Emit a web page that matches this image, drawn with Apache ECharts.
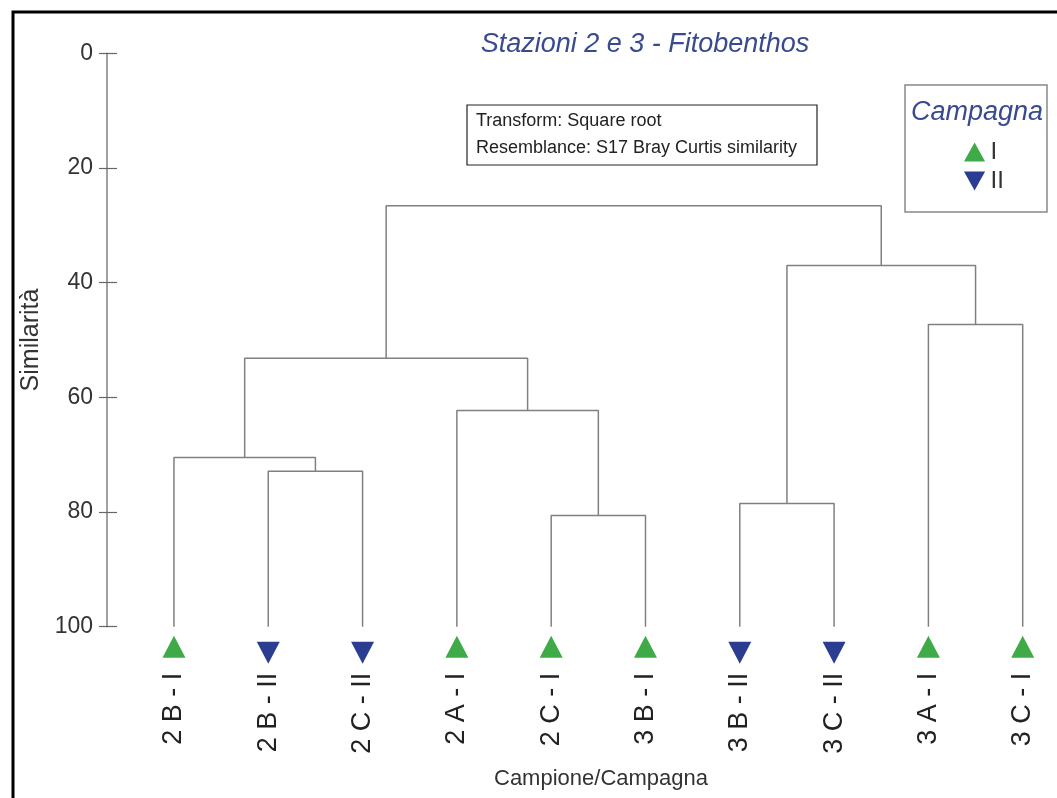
<!DOCTYPE html>
<html>
<head>
<meta charset="utf-8">
<script src="https://cdn.jsdelivr.net/npm/echarts@6/dist/echarts.min.js"></script>
<style>
  html, body { margin: 0; padding: 0; background: #fff; }
  #chart { width: 1057px; height: 798px; }
</style>
</head>
<body>
<div id="chart"></div>
<script>
// leaves (left to right), and their campaign
const leafNames = ['2 B - I', '2 B - II', '2 C - II', '2 A - I', '2 C - I', '3 B - I', '3 B - II', '3 C - II', '3 A - I', '3 C - I'];
const leafCampagna = ['I', 'II', 'II', 'I', 'I', 'I', 'II', 'II', 'I', 'I'];
// merges: node ids (0-9 leaves, 10+ merges in order) and similarity level
const mergeA = [1, 0, 4, 3, 11, 6, 8, 15, 14];
const mergeB = [2, 10, 5, 12, 13, 7, 9, 16, 17];
const mergeSim = [72.9, 70.5, 80.6, 62.3, 53.2, 78.5, 47.3, 37.0, 26.6];
const yTicks = [0, 20, 40, 60, 80, 100];

const FONT = '"Liberation Sans", Arial, sans-serif';
const GREEN = '#3fab48';
const BLUE = '#2b3d90';
const LINE = '#808080';

const nodeX = leafNames.map((_, i) => i);
const nodeY = leafNames.map(() => 100);
mergeA.forEach((a, k) => {
  const b = mergeB[k];
  nodeX.push((nodeX[a] + nodeX[b]) / 2);
  nodeY.push(mergeSim[k]);
});

const linkSeries = mergeA.map((a, k) => {
  const b = mergeB[k];
  return {
    type: 'line',
    symbol: 'none',
    silent: true,
    lineStyle: { color: LINE, width: 1.5 },
    data: [[nodeX[a], nodeY[a]], [nodeX[a], mergeSim[k]], [nodeX[b], mergeSim[k]], [nodeX[b], nodeY[b]]]
  };
});

const UP = 'path://M5,0 L10,9 L0,9 Z';
const DOWN = 'path://M0,0 L10,0 L5,9 Z';

function markerSeries(name, symbol, color, offset) {
  return {
    type: 'scatter',
    name: name,
    clip: false,
    symbol: symbol,
    symbolSize: [23, 22],
    symbolOffset: [0, offset],
    itemStyle: { color: color, opacity: 1 },
    data: leafNames.map((_, i) => i).filter(i => leafCampagna[i] === name).map(i => [i, 100])
  };
}

const chart = echarts.init(document.getElementById('chart'));
chart.setOption({
  animation: false,
  textStyle: { fontFamily: FONT },
  grid: { left: 107, right: 6, top: 53.3, bottom: 171.3, containLabel: false },
  xAxis: {
    type: 'value',
    min: -0.71,
    max: 9.3,
    axisLine: { show: false },
    axisTick: { show: false },
    splitLine: { show: false },
    axisLabel: {
      customValues: leafNames.map((_, i) => i),
      formatter: v => leafNames[Math.round(v)],
      rotate: 90,
      margin: 46,
      fontSize: 27,
      color: '#222',
      fontFamily: FONT
    }
  },
  yAxis: [{
    type: 'value',
    inverse: true,
    min: 0,
    max: 100,
    interval: 20,
    name: 'Similarità',
    nameLocation: 'middle',
    nameGap: 58,
    nameTextStyle: { fontSize: 25, color: '#333', fontFamily: FONT },
    axisLine: { show: true, onZero: false, lineStyle: { color: LINE, width: 1.5 } },
    axisTick: { show: true, length: 8, lineStyle: { color: '#666', width: 1.2 } },
    splitLine: { show: false },
    axisLabel: {
      margin: 14,
      fontSize: 23,
      color: '#333',
      fontFamily: FONT,
      customValues: yTicks
    }
  }, {
    type: 'value',
    inverse: true,
    min: 0,
    max: 100,
    interval: 20,
    position: 'left',
    axisLine: { show: false, onZero: false },
    axisTick: { show: true, inside: true, length: 10, lineStyle: { color: '#666', width: 1.2 } },
    axisLabel: { show: false },
    splitLine: { show: false }
  }],
  legend: {
    orient: 'vertical',
    left: 959,
    top: 135,
    itemWidth: 22,
    itemHeight: 19,
    itemGap: 5,
    textStyle: { fontSize: 24, color: '#333', fontFamily: FONT },
    data: [{ name: 'I', icon: UP }, { name: 'II', icon: DOWN }]
  },
  graphic: [
    {
      type: 'rect',
      shape: { x: 13, y: 12, width: 1100, height: 850 },
      style: { fill: null, stroke: '#000', lineWidth: 3 },
      silent: true
    },
    {
      type: 'text',
      x: 645,
      y: 44,
      style: {
        text: 'Stazioni 2 e 3 - Fitobenthos',
        font: 'italic 27px ' + FONT,
        fill: '#3a4a8f',
        align: 'center',
        verticalAlign: 'middle'
      }
    },
    {
      type: 'rect',
      shape: { x: 467, y: 105, width: 350, height: 60 },
      style: { fill: '#fff', stroke: '#222', lineWidth: 1.2 }
    },
    {
      type: 'text',
      x: 476,
      y: 121,
      style: { text: 'Transform: Square root', font: '18px ' + FONT, fill: '#222', verticalAlign: 'middle' }
    },
    {
      type: 'text',
      x: 476,
      y: 148,
      style: { text: 'Resemblance: S17 Bray Curtis similarity', font: '18px ' + FONT, fill: '#222', verticalAlign: 'middle' }
    },
    {
      type: 'rect',
      shape: { x: 905, y: 85, width: 142, height: 127 },
      style: { fill: null, stroke: '#888', lineWidth: 1.5 }
    },
    {
      type: 'text',
      x: 977,
      y: 112,
      style: { text: 'Campagna', font: 'italic 27px ' + FONT, fill: '#3a4a8f', align: 'center', verticalAlign: 'middle' }
    },
    {
      type: 'text',
      x: 601,
      y: 779,
      style: { text: 'Campione/Campagna', font: '22px ' + FONT, fill: '#333', align: 'center', verticalAlign: 'middle' }
    }
  ],
  series: linkSeries.concat([
    markerSeries('I', UP, GREEN, 20),
    markerSeries('II', DOWN, BLUE, 26)
  ])
});
window.addEventListener('resize', chart.resize);
</script>
</body>
</html>
